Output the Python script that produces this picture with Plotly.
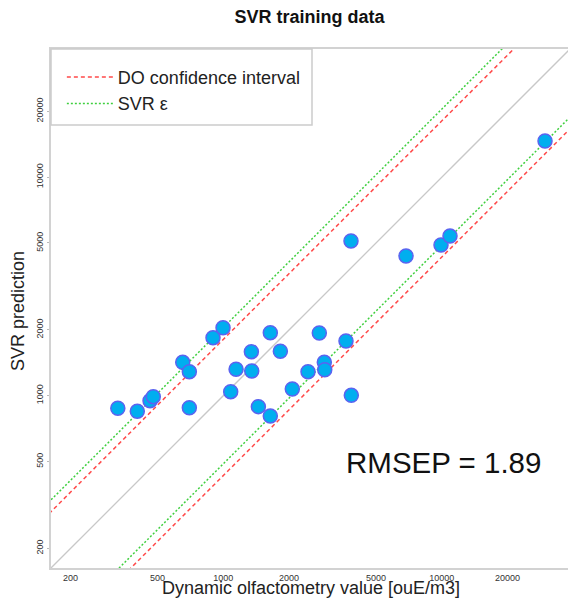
import plotly.graph_objects as go

# Data (log-log scatter)
do_value = [329, 404, 462, 478, 699, 652, 699, 897, 997, 1144, 1081, 1344, 1349,
            1641, 1824, 1447, 1641, 2069, 2441, 2750, 2899, 2912, 3643, 3853,
            3840, 6858, 9916, 10901, 29670]
svr_pred = [876, 848, 949, 990, 881, 1421, 1288, 1843, 2047, 1321, 1043, 1590, 1297,
            1943, 1597, 891, 807, 1073, 1288, 1936, 1421, 1315, 1780, 1004,
            5105, 4359, 4895, 5381, 14646]

# interval factors (multiplicative, log-log lines)
do_upper_factor = 1.81
do_lower_factor = 1 / 2.32
svr_eps_factor = 2.05

tick_vals = [200, 500, 1000, 2000, 5000, 10000, 20000]
tick_text = ["200", "500", "1000", "2000", "5000", "10000", "20000"]

line_x = [10 ** 1.5, 10 ** 5.0]

FONT = "Liberation Sans, Arial, Helvetica, sans-serif"
RED = "#ff4a4a"
GREEN = "#3fcf3f"

fig = go.Figure()

# identity line
fig.add_trace(go.Scatter(x=line_x, y=line_x, mode="lines",
                         line=dict(color="#c8c8c8", width=1.3), showlegend=False,
                         hoverinfo="skip"))
# DO confidence interval
fig.add_trace(go.Scatter(x=line_x, y=[v * do_upper_factor for v in line_x], mode="lines",
                         line=dict(color=RED, width=1.5, dash="4px,3px"),
                         name="DO confidence interval", legendgroup="do"))
fig.add_trace(go.Scatter(x=line_x, y=[v * do_lower_factor for v in line_x], mode="lines",
                         line=dict(color=RED, width=1.5, dash="4px,3px"),
                         name="DO confidence interval", legendgroup="do", showlegend=False))
# SVR epsilon
fig.add_trace(go.Scatter(x=line_x, y=[v * svr_eps_factor for v in line_x], mode="lines",
                         line=dict(color=GREEN, width=1.5, dash="2px,2px"),
                         name="SVR ε", legendgroup="svr"))
fig.add_trace(go.Scatter(x=line_x, y=[v / svr_eps_factor for v in line_x], mode="lines",
                         line=dict(color=GREEN, width=1.5, dash="2px,2px"),
                         name="SVR ε", legendgroup="svr", showlegend=False))

# points
fig.add_trace(go.Scatter(x=do_value, y=svr_pred, mode="markers",
                         marker=dict(size=14, color="#00aeef",
                                     line=dict(color="#5a63f0", width=1.5)),
                         showlegend=False))

x_lo, x_hi = 2.2114, 4.5775
y_lo, y_hi = 2.2114, 4.5867

axis_common = dict(type="log", showgrid=False, zeroline=False, showline=True,
                   linecolor="#d2d2d2", linewidth=2,
                   tickcolor="#bbbbbb", tickwidth=1, automargin=False,
                   tickvals=tick_vals, ticktext=tick_text,
                   tickfont=dict(family=FONT, size=9, color="#333333"))

fig.update_layout(
    width=568, height=602,
    margin=dict(l=51, r=0, t=49, b=34),
    paper_bgcolor="white", plot_bgcolor="white",
    font=dict(family=FONT, color="#222222"),
    title=dict(text="<b>SVR training data</b>", x=0.5, xref="paper", xanchor="center",
               y=1 - 17 / 602, yanchor="middle",
               font=dict(family=FONT, size=18, color="#111111")),
    xaxis=dict(range=[x_lo, x_hi], mirror=True, ticks="", **axis_common),
    yaxis=dict(range=[y_lo, y_hi], tickangle=-90, ticks="outside", ticklen=2,
               **axis_common),
    showlegend=True,
    legend=dict(x=0.021, y=0.981, xanchor="left", yanchor="top",
                bgcolor="rgba(0,0,0,0)", borderwidth=0, itemwidth=46,
                font=dict(family=FONT, size=18, color="#222222"),
                tracegroupgap=0),
    shapes=[dict(type="rect", xref="paper", yref="paper",
                 x0=0, x1=(312 - 51) / 517, y0=(568 - 125) / 519, y1=1,
                 line=dict(color="#cccccc", width=1.5), fillcolor="white",
                 layer="above")],
    annotations=[
        dict(text="RMSEP = 1.89", xref="paper", yref="paper",
             x=(443 - 51) / 517, y=(568 - 463) / 519, xanchor="center", yanchor="middle",
             showarrow=False, font=dict(family=FONT, size=29.5, color="#111111")),
        dict(text="Dynamic olfactometry value [ouE/m3]", xref="paper", yref="paper",
             x=(311 - 51) / 517, y=(568 - 588) / 519, xanchor="center", yanchor="middle",
             showarrow=False, font=dict(family=FONT, size=18, color="#222222")),
        dict(text="SVR prediction", xref="paper", yref="paper",
             x=(18 - 51) / 517, y=(568 - 311) / 519, xanchor="center", yanchor="middle",
             textangle=-90, showarrow=False,
             font=dict(family=FONT, size=18, color="#222222")),
    ],
)

fig.write_html("out.html", config={"displayModeBar": False},
               post_script="document.body.style.margin='0';document.body.style.overflow='hidden';")
